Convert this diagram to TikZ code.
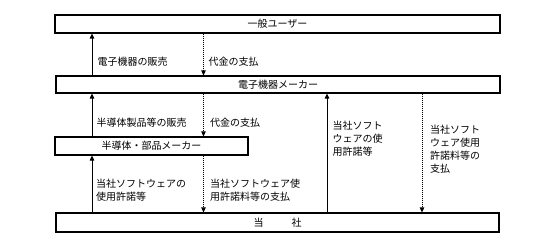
\documentclass[tikz,border=0pt]{standalone}
\usepackage{fontspec}
\newfontfamily\jpfont{Noto Sans CJK JP}
\usetikzlibrary{arrows.meta}

\begin{document}
\begin{tikzpicture}[
    x=1pt, y=-1pt,
    font=\jpfont\fontsize{10}{13}\selectfont,
    box/.style={rectangle, draw=black, line width=1.1pt, fill=white,
                minimum height=18pt, inner sep=0pt},
    arrow/.style={-{Triangle[width=4.5pt,length=5pt]}, line width=0.9pt},
    payarrow/.style={-{Triangle[width=4.5pt,length=5pt]}, line width=0.8pt,
                     dash pattern=on 1pt off 1pt},
    note/.style={anchor=north west, inner sep=0pt, align=left},
]
\useasboundingbox (0,0) rectangle (555,245);

\node[box, minimum width=445pt] (user) at (277.5,24) {一般ユーザー};
\node[box, minimum width=444pt, minimum height=17pt] (maker) at (278,84.5) {電子機器メーカー};
\node[box, minimum width=193pt] (parts) at (151.5,146) {半導体・部品メーカー};
\node[box, minimum width=443pt, minimum height=19pt] (self) at (277.5,222.5) {当\hspace{2.8em}社};

\coordinate (sx) at (92,0);
\coordinate (dx) at (203.5,0);
\coordinate (rx) at (327,0);
\coordinate (px) at (422,0);

\draw[arrow] (sx |- maker.north) -- (sx |- user.south);
\draw[payarrow] (dx |- user.south) -- (dx |- maker.north);
\draw[arrow] (sx |- parts.north) -- (sx |- maker.south);
\draw[payarrow] (dx |- maker.south) -- (dx |- parts.north);
\draw[arrow] (sx |- self.north) -- (sx |- parts.south);
\draw[payarrow] (dx |- parts.south) -- (dx |- self.north);
\draw[arrow] (rx |- self.north) -- (rx |- maker.south);
\draw[payarrow] (px |- maker.south) -- (px |- self.north);

\node[note] (sale1) at (97.5,57) {電子機器の販売};
\node[note] (pay1) at (208.5,57) {代金の支払};
\node[note] (sale2) at (96.5,118) {半導体製品等の販売};
\node[note] (pay2) at (210,118) {代金の支払};
\node[note] (lic1) at (96,179) {当社ソフトウェアの\\使用許諾等};
\node[note] (fee1) at (210,179) {当社ソフトウェア使\\用許諾料等の支払};
\node[note] (lic2) at (332.5,121) {当社ソフト\\ウェアの使\\用許諾等};
\node[note] (fee2) at (430,125) {当社ソフト\\ウェア使用\\許諾料等の\\支払};
\end{tikzpicture}
\end{document}
